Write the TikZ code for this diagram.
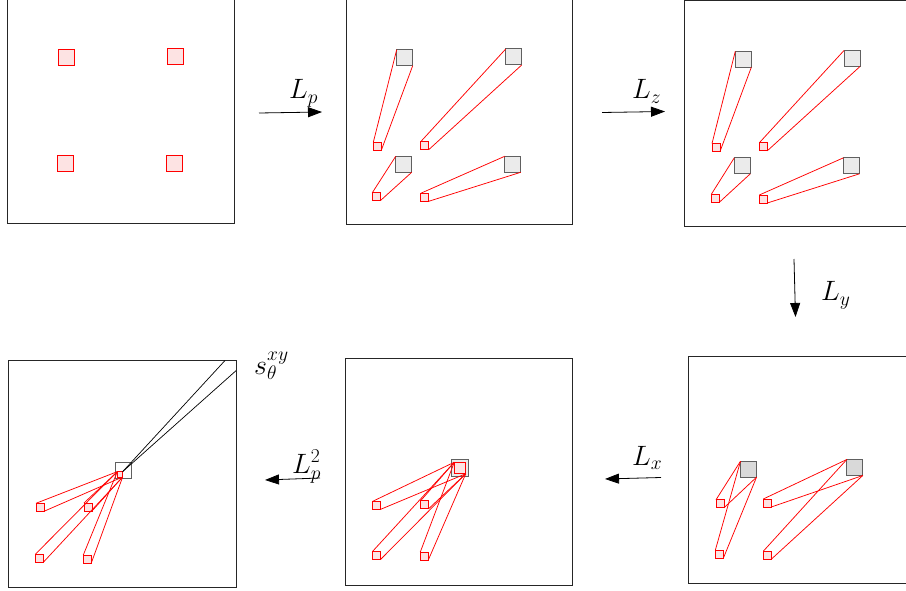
\RequirePackage{fix-cm}
\documentclass[tikz,border=0pt]{standalone}
\usetikzlibrary{arrows.meta}
\definecolor{pinkfill}{HTML}{FDE3E3}
\definecolor{grayfill}{HTML}{EBEBEB}
\definecolor{darkgrayfill}{HTML}{D9D9D9}
\definecolor{sqborder}{HTML}{606060}
\begin{document}
\begin{tikzpicture}[x=1pt,y=-1pt,
  frame/.style={draw=black!85,line width=1pt},
  bigsq/.style={rectangle,draw=sqborder,fill=grayfill,line width=1pt,minimum size=16pt,inner sep=0pt,outer sep=0pt},
  bigsqdark/.style={bigsq,fill=darkgrayfill},
  pinksq/.style={rectangle,draw=red,fill=pinkfill,line width=0.9pt,minimum size=16pt,inner sep=0pt,outer sep=0pt},
  redsq/.style={rectangle,draw=red,fill=pinkfill,line width=0.8pt,minimum size=8pt,inner sep=0pt,outer sep=0pt},
  ray/.style={draw=red,line width=0.75pt},
  blackray/.style={draw=black,line width=0.7pt},
  arr/.style={draw=black,line width=0.8pt,-{Triangle[length=14pt,width=10pt]}},
  lab/.style={inner sep=0pt,font=\fontsize{28}{33}\selectfont}
]
\useasboundingbox (0,0) rectangle (906,591);
% frames
\draw[frame] (7,-3) rectangle (234,224);
\draw[frame] (346,-3) rectangle (572,225);
\draw[frame] (684,0.5) rectangle (912,227);
\draw[frame] (8,360) rectangle (236,587);
\draw[frame] (345,358) rectangle (572,585);
\draw[frame] (688,356) rectangle (912,583);

% panel 1
\node[pinksq] (p11) at (66.2,57) {};
\node[pinksq] (p12) at (175,56.2) {};
\node[pinksq] (p13) at (65,163.7) {};
\node[pinksq] (p14) at (174,163.7) {};

% panel 2
\node[bigsq] (B21) at (404.7,57.7) {};
\node[bigsq] (B22) at (513.7,57) {};
\node[bigsq] (B23) at (403.7,164.3) {};
\node[bigsq] (B24) at (512.7,164.3) {};
\node[redsq] (s21) at (377.3,146.3) {};
\node[redsq] (s22) at (424.7,145.7) {};
\node[redsq] (s23) at (376.3,196.7) {};
\node[redsq] (s24) at (424.7,197.3) {};
\foreach \i in {1,2,3,4}{
  \draw[ray] (s2\i.north west) -- (B2\i.north west);
  \draw[ray] (s2\i.south east) -- (B2\i.south east);
}

% panel 3
\node[bigsq] (B31) at (743.3,59.3) {};
\node[bigsq] (B32) at (852,58.5) {};
\node[bigsq] (B33) at (742.3,165.8) {};
\node[bigsq] (B34) at (851.5,165.8) {};
\node[redsq] (s31) at (716,147.5) {};
\node[redsq] (s32) at (763.3,146.8) {};
\node[redsq] (s33) at (715.3,198.3) {};
\node[redsq] (s34) at (763.3,199) {};
\foreach \i in {1,2,3,4}{
  \draw[ray] (s3\i.north west) -- (B3\i.north west);
  \draw[ray] (s3\i.south east) -- (B3\i.south east);
}

% panel 6 (bottom right)
\node[bigsqdark] (B61) at (748.5,469.2) {};
\node[bigsqdark] (B62) at (854.8,467.5) {};
\node[redsq] (s61) at (720,503.8) {};
\node[redsq] (s62) at (767.3,503) {};
\node[redsq] (s63) at (719.3,554.3) {};
\node[redsq] (s64) at (767.3,555.2) {};
\foreach \s/\b in {s61/B61,s63/B61,s62/B62,s64/B62}{
  \draw[ray] (\s.north west) -- (\b.north west);
  \draw[ray] (\s.south east) -- (\b.south east);
}

% panel 5 (bottom middle)
\node[bigsq,minimum size=16.7pt] (B5) at (460,468.3) {};
\node[redsq,minimum size=11.5pt] (r5) at (460,468) {};
\node[redsq] (s51) at (376.7,505.3) {};
\node[redsq] (s52) at (424.7,504.7) {};
\node[redsq] (s53) at (376.3,555.7) {};
\node[redsq] (s54) at (424.3,556) {};
\foreach \i in {1,2,3,4}{
  \draw[ray] (s5\i.north west) -- (r5.north west);
  \draw[ray] (s5\i.south east) -- (r5.south east);
}

% panel 4 (bottom left)
\node[bigsq,fill=white] (B4) at (123,470.5) {};
\node[redsq,minimum size=5.3pt] (r4) at (120,474.3) {};
\node[redsq] (s41) at (40,507.3) {};
\node[redsq] (s42) at (88,507) {};
\node[redsq] (s43) at (39.3,558.3) {};
\node[redsq] (s44) at (87.3,559) {};
\foreach \i in {1,2,3,4}{
  \draw[ray] (s4\i.north west) -- (r4.north west);
  \draw[ray] (s4\i.south east) -- (r4.south east);
}
\coordinate (t1) at (225,360.5);
\coordinate (t2) at (236,370.7);
\draw[blackray] (r4.north east) -- (t1);
\draw[blackray] (r4.north east) -- (t2);
\node[lab,anchor=base west] (slab) at (254,374) {$s_\theta^{xy}$};

% arrows
\coordinate (lpA) at (259,113);
\coordinate (lpB) at (322,112);
\draw[arr] (lpA) -- (lpB);
\node[lab,anchor=base west] (lpl) at (289,99) {$L_p$};

\coordinate (lzA) at (602,112.5);
\coordinate (lzB) at (665,111.5);
\draw[arr] (lzA) -- (lzB);
\node[lab,anchor=base west] (lzl) at (632,99) {$L_z$};

\coordinate (lyA) at (794,259);
\coordinate (lyB) at (795.5,317);
\draw[arr] (lyA) -- (lyB);
\node[lab,anchor=base west] (lyl) at (821,301) {$L_y$};

\coordinate (lxA) at (661,477.5);
\coordinate (lxB) at (605,479);
\draw[arr] (lxA) -- (lxB);
\node[lab,anchor=base west] (lxl) at (632,465) {$L_x$};

\coordinate (l2A) at (320,478);
\coordinate (l2B) at (265,480);
\draw[arr] (l2A) -- (l2B);
\node[lab,anchor=base west] (l2l) at (292,473) {$L_p^2$};
\end{tikzpicture}
\end{document}
